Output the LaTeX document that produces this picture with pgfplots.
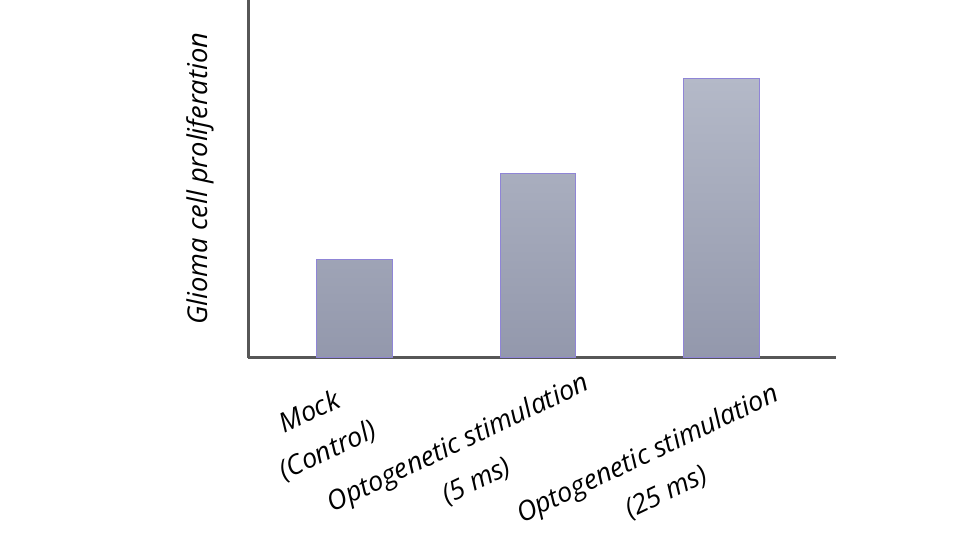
\documentclass[border=0pt]{standalone}
\usepackage{pgfplots}
\pgfplotsset{compat=1.18}
\usepackage{fontspec}
\setmainfont{Open Sans}
\definecolor{axisgray}{HTML}{575757}
\definecolor{bartop}{HTML}{B4B9C8}
\definecolor{barbot}{HTML}{9398AC}
\definecolor{baredge}{HTML}{8F85D6}
\begin{document}
\begin{tikzpicture}
\path[use as bounding box] (0,0) rectangle (720pt,405pt);
\begin{axis}[
  at={(186pt,136.875pt)}, anchor=south west,
  scale only axis,
  width=441pt, height=268.125pt,
  xmin=-0.580, xmax=2.624,
  ymin=0, ymax=357.5,
  axis x line=bottom, axis y line=left,
  axis line style={-, line width=2.25pt, color=axisgray},
  xtick=\empty, ytick=\empty,
  clip=false,
  ylabel={\fontsize{20.5}{24}\selectfont\itshape Glioma cell proliferation},
  ylabel style={at={(axis description cs:-0.0816,0.5)}, anchor=center},
]
\addplot[ybar, bar width=0.411, top color=bartop, bottom color=barbot, draw=baredge, line width=0.5pt]
  coordinates {(0,98.5) (1,184.5) (2,279.5)};
\node[rotate=25.5, align=center, anchor=center, font=\fontsize{20.3}{32}\selectfont\itshape]
  at (axis cs:-0.193,-74.5) {Mock\\(Control)};
\node[rotate=25.5, align=center, anchor=center, font=\fontsize{20.3}{32}\selectfont\itshape]
  at (axis cs:0.616,-105) {Optogenetic stimulation\\(5 ms)};
\node[rotate=25.5, align=center, anchor=center, font=\fontsize{20.3}{32}\selectfont\itshape]
  at (axis cs:1.649,-116) {Optogenetic stimulation\\(25 ms)};
\end{axis}
\end{tikzpicture}
\end{document}
